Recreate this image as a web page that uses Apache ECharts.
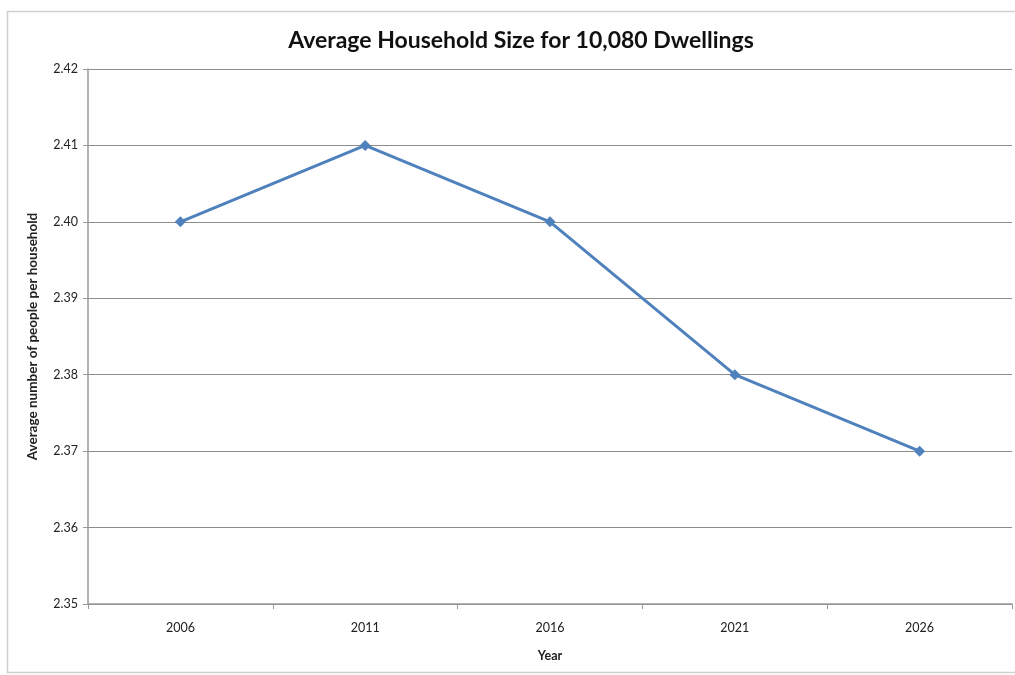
<!DOCTYPE html>
<html><head><meta charset="utf-8">
<script src="https://cdn.jsdelivr.net/npm/echarts@6/dist/echarts.min.js"></script>
<style>html,body{margin:0;padding:0;background:#fff}#c{width:1015px;height:675px}</style>
</head><body><div id="c"></div>
<script>
const years = ['2006','2011','2016','2021','2026'];
const householdSize = [2.40, 2.41, 2.40, 2.38, 2.37];
const yTicks = [2.35, 2.42, 0.01];

const chart = echarts.init(document.getElementById('c'));
chart.setOption({
  animation: false,
  backgroundColor: '#fff',
  graphic: [{type:'rect', shape:{x:7.5,y:11.5,width:1020,height:661}, style:{fill:'none',stroke:'#cfcfcf',lineWidth:1.5}, silent:true}],
  title: {text:'Average Household Size for 10,080 Dwellings', left:516, textAlign:'center', top:24,
    textStyle:{fontFamily:'Lato, Open Sans, sans-serif', fontWeight:'bold', fontSize:23, color:'#111'}},
  grid: {left:88, right:3, top:69, bottom:71},
  xAxis: {type:'category', data:years, boundaryGap:true,
    name:'Year', nameLocation:'middle', nameGap:45,
    nameTextStyle:{fontFamily:'Lato, sans-serif', fontWeight:'bold', fontSize:12.5, color:'#222'},
    axisLine:{lineStyle:{color:'#999', width:1.5}},
    axisTick:{show:true, length:5, lineStyle:{color:'#999'}},
    axisLabel:{fontFamily:'Lato, sans-serif', fontSize:12.5, color:'#222', margin:17}},
  yAxis: {type:'value', min:yTicks[0], max:yTicks[1], interval:yTicks[2],
    name:'Average number of people per household', nameLocation:'middle', nameGap:48, nameRotate:90,
    nameTextStyle:{fontFamily:'Lato, sans-serif', fontWeight:'bold', fontSize:13.5, color:'#222'},
    axisLine:{show:true, lineStyle:{color:'#999', width:1.5}},
    axisTick:{show:true, length:5, lineStyle:{color:'#999'}},
    axisLabel:{fontFamily:'Lato, sans-serif', fontSize:12.5, color:'#222', margin:10, formatter:v=>v.toFixed(2)},
    splitLine:{lineStyle:{color:'#8c8c8c', width:1}}},
  series: [{type:'line', data:householdSize, symbol:'diamond', symbolSize:11,
    lineStyle:{color:'#4f81bd', width:3}, itemStyle:{color:'#4f81bd'}}]
});
</script></body></html>
